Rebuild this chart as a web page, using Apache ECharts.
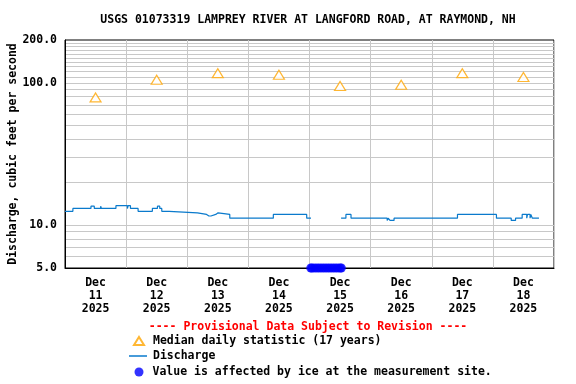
<!DOCTYPE html>
<html>
<head>
<meta charset="utf-8">
<script src="https://cdn.jsdelivr.net/npm/echarts@6/dist/echarts.min.js"></script>
<style>html,body{margin:0;padding:0;background:#fff}#c{width:576px;height:384px}</style>
</head>
<body>
<div id="c"></div>
<script>
const titleText = 'USGS 01073319 LAMPREY RIVER AT LANGFORD ROAD, AT RAYMOND, NH';
const provisionalText = '---- Provisional Data Subject to Revision ----';
const yAxisName = 'Discharge, cubic feet per second';
const dayLabels = ['11', '12', '13', '14', '15', '16', '17', '18'];
const monthLabel = 'Dec';
const yearLabel = '2025';
const medianName = 'Median daily statistic (17 years)';
const dischargeName = 'Discharge';
const iceName = 'Value is affected by ice at the measurement site.';
const medianValues = [79, 105, 117, 114, 95, 97, 117, 110];
// hours since Dec 11 00:00, value holds until next change
const dischargeHours = [0, 3.1, 10.2, 11.5, 14.0, 14.3, 20.0, 24.5, 24.8, 25.7, 28.7, 34.3, 36.3, 37.2, 38.0, 40.9,
  52.0, 55.6, 55.9, 56.2, 56.5, 57.0, 57.3, 59.2, 60.1, 64.7, 81.8, 94.9, 96.6, 96.7,
  108.4, 110.3, 112.3, 126.5, 126.9, 127.6, 129.2, 154.1, 169.4, 175.2, 176.9, 179.5,
  181.3, 181.6, 182.6, 182.9, 183.5, 186.1];
const dischargeValues = [12.5, 13.1, 13.6, 13.1, 13.6, 13.1, 13.7, 13.1, 13.7, 13.1, 12.5, 13.1, 13.6, 13.1, 12.5, 12.2,
  11.9, 11.6, 11.9, 11.6, 11.9, 11.6, 11.9, 12.2, 11.9, 11.2, 11.9, 11.2, 11.2, null,
  11.2, 11.9, 11.2, 10.8, 11.2, 10.8, 11.2, 11.9, 11.2, 10.8, 11.2, 11.9,
  11.2, 11.9, 11.2, 11.9, 11.2, 11.2];
const iceHours = [96.5, 97, 98, 99, 100, 101, 102, 103, 104, 105, 106, 107, 108, 108.5];
const iceValue = 5;
const yGridValues = [6, 7, 8, 9, 10, 20, 30, 40, 50, 60, 70, 80, 90, 100, 110, 120, 130, 140, 150, 160, 170, 180, 190];

// build step data: value holds until the next reading
const dischargeData = [];
dischargeHours.forEach((h, i) => {
  const v = dischargeValues[i];
  const prev = i > 0 ? dischargeValues[i - 1] : null;
  if (v === null) { dischargeData.push([h, '-']); return; }
  if (prev !== null && prev !== v) dischargeData.push([h, prev]);
  dischargeData.push([h, v]);
});

const FONT = 'DejaVu Sans Mono';
const FS = 11.5;
const txt = {fontFamily: FONT, fontWeight: 'bold', fontSize: FS, color: '#000'};

const chart = echarts.init(document.getElementById('c'), null, {renderer: 'canvas'});
chart.setOption({
  animation: false,
  backgroundColor: '#fff',
  title: [
    {text: titleText, left: 308, top: 13, textAlign: 'center', padding: 0,
     textStyle: Object.assign({}, txt, {lineHeight: 14})},
    {text: provisionalText, left: 308, top: 320, textAlign: 'center', padding: 0,
     textStyle: Object.assign({}, txt, {color: '#FF0000', lineHeight: 14})}
  ],
  grid: {left: 65, right: 22, top: 40, bottom: 116, containLabel: false, outerBoundsMode: 'none',
         show: true, borderColor: '#000', borderWidth: 1, backgroundColor: 'transparent'},
  xAxis: [
    {type: 'category', data: dayLabels, boundaryGap: true,
     axisLine: {show: true, lineStyle: {color: '#000', width: 1}},
     axisTick: {show: false},
     splitLine: {show: true, lineStyle: {color: '#C8C8C8', width: 1}},
     axisLabel: Object.assign({}, txt, {margin: 9, lineHeight: 13, interval: 0,
       formatter: d => monthLabel + '\n' + d + '\n' + yearLabel})},
    {type: 'value', min: 0, max: 192, show: false}
  ],
  yAxis: {
    type: 'log', logBase: 10, min: 5, max: 200,
    name: yAxisName, nameLocation: 'middle', nameGap: 46, nameMoveOverlap: false,
    nameTextStyle: Object.assign({}, txt),
    axisLine: {show: true, lineStyle: {color: '#000', width: 1}},
    axisTick: {show: false},
    splitLine: {show: false},
    axisLabel: Object.assign({}, txt, {margin: 8, showMinLabel: true, showMaxLabel: true,
      formatter: v => Number(v).toFixed(1)})
  },
  legend: [
    {data: [{name: medianName, icon: 'triangle'}], left: 133, top: 334, padding: 0, orient: 'vertical',
     itemWidth: 10, itemHeight: 8, selectedMode: false,
     textStyle: Object.assign({}, txt, {lineHeight: 14, padding: [0, 0, 0, 4]})},
    {data: [{name: dischargeName, icon: 'rect'}], left: 129, top: 349, padding: 0, orient: 'vertical',
     itemWidth: 18, itemHeight: 1.5, selectedMode: false,
     itemStyle: {color: '#0A7ACC', borderWidth: 0},
     textStyle: Object.assign({}, txt, {lineHeight: 14, padding: [0, 0, 0, 1]})},
    {data: [{name: iceName, icon: 'circle'}], left: 134.5, top: 365, padding: 0, orient: 'vertical',
     itemWidth: 9, itemHeight: 9, selectedMode: false,
     textStyle: Object.assign({}, txt, {lineHeight: 14, padding: [0, 0, 0, 4]})}
  ],
  series: [
    {name: 'grid', type: 'line', xAxisIndex: 1, data: [], silent: true, z: 0,
     markLine: {silent: true, symbol: 'none', z: 0, animation: false, label: {show: false},
       lineStyle: {color: '#C8C8C8', width: 1, type: 'solid'},
       emphasis: {disabled: true},
       data: yGridValues.map(v => ({yAxis: v}))}},
    {name: dischargeName, type: 'line', xAxisIndex: 1, showSymbol: false, symbol: 'none',
     z: 3, connectNulls: false,
     lineStyle: {color: '#0A7ACC', width: 1.2}, itemStyle: {color: '#0A7ACC'},
     data: dischargeData},
    {name: medianName, type: 'scatter', xAxisIndex: 0, symbol: 'triangle', symbolSize: [11, 9], z: 4,
     itemStyle: {color: '#FFFFFF', borderColor: '#FFA500', borderWidth: 1.2},
     data: medianValues},
    {name: iceName, type: 'scatter', xAxisIndex: 1, symbol: 'circle', symbolSize: 9, z: 5, clip: false,
     itemStyle: {color: '#0000FF'},
     data: iceHours.map(h => [h, iceValue])}
  ]
});
</script>
</body>
</html>
